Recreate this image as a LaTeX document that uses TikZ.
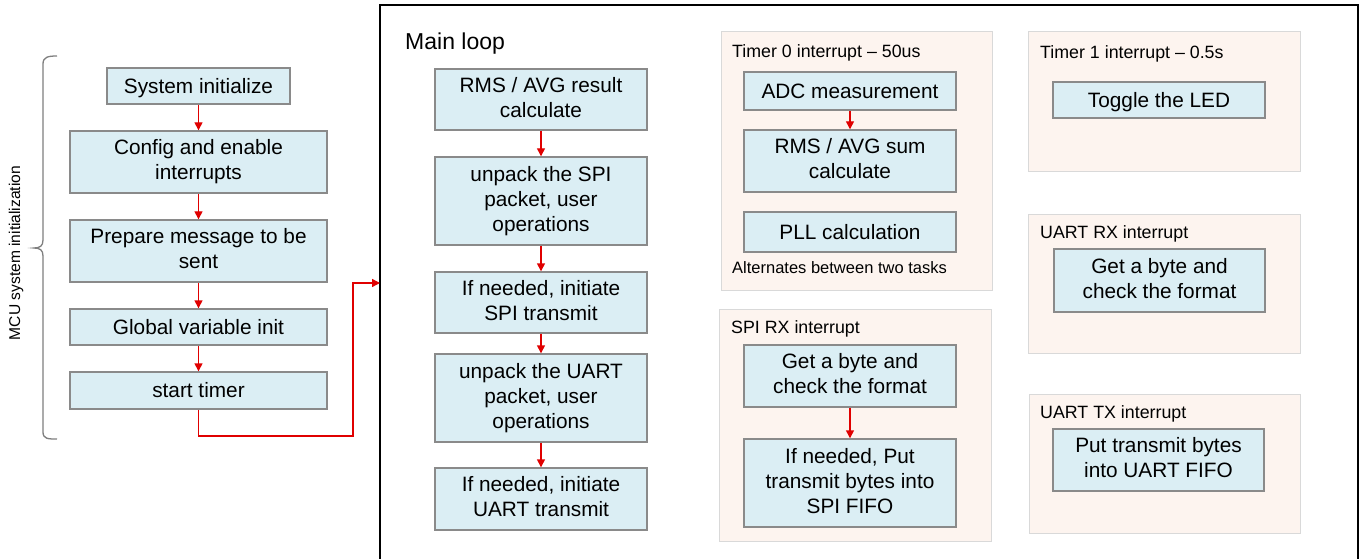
\documentclass[tikz,border=0pt]{standalone}
\usepackage{fontspec}
\setmainfont{Liberation Sans}
\usetikzlibrary{arrows.meta}
\definecolor{boxfill}{HTML}{DBEEF4}
\definecolor{boxline}{HTML}{8A8A8A}
\definecolor{panelfill}{HTML}{FDF4EF}
\definecolor{panelline}{HTML}{D9D9D9}
\definecolor{arrred}{HTML}{E00000}
\definecolor{bracegray}{HTML}{7F7F7F}
\tikzset{
  stepbox/.style={draw=boxline, fill=boxfill, line width=1.4pt, inner sep=0pt, align=center,
    font=\fontsize{20.8}{25}\selectfont,
    execute at begin node={\rule{0pt}{0.905em}},
    execute at end node={\rule[-0.212em]{0pt}{0.212em}}},
  panel/.style={draw=panelline, fill=panelfill, line width=1pt},
  ptitle/.style={anchor=base west, inner sep=0pt, font=\fontsize{17.8}{21}\selectfont},
  arr/.style={draw=arrred, line width=1.4pt, -{Triangle[width=8pt,length=8pt]}},
}
\begin{document}
\begin{tikzpicture}[x=1pt,y=-1pt]
\useasboundingbox (0,0) rectangle (1361,559);
\clip (0,0) rectangle (1361,559);
\fill[white] (0,0) rectangle (1361,559);

% main frame
\draw[line width=2.6pt] (380,5) rectangle (1358,620);
\coordinate (entry) at (380,283);
\coordinate (turn) at (353,436);

% brace and label
\draw[bracegray, line width=1.3pt] (57,56) .. controls (48,56) and (43,57) .. (43,64) -- (43,240)
  .. controls (43,246) and (40,248) .. (34,248) .. controls (40,248) and (43,250) .. (43,256)
  -- (43,432) .. controls (43,439) and (48,439) .. (57,439);
\node[rotate=90, inner sep=0pt, font=\fontsize{15.6}{19}\selectfont] (mcu) at (16,253) {MCU system initialization};

% left column
\node[stepbox, minimum width=183, minimum height=36] (sysinit) at (198.5,86) {System initialize};
\node[stepbox, minimum width=257, minimum height=62] (config) at (198.5,162) {Config and enable\\interrupts};
\node[stepbox, minimum width=257, minimum height=62] (prepare) at (198.5,251) {Prepare message to be\\sent};
\node[stepbox, minimum width=257, minimum height=36] (global) at (198.5,327) {Global variable init};
\node[stepbox, minimum width=257, minimum height=37] (start) at (198.5,390.5) {start timer};

\draw[arr] (sysinit) -- (config);
\draw[arr] (config) -- (prepare);
\draw[arr] (prepare) -- (global);
\draw[arr] (global) -- (start);
\draw[arr] (start.south) |- (turn) |- (entry);

% main loop
\node[anchor=base west, inner sep=0pt, font=\fontsize{23}{28}\selectfont] (mainloop) at (405,49.5) {Main loop};
\node[stepbox, minimum width=212, minimum height=61] (rms) at (541,99.5) {RMS / AVG result\\calculate};
\node[stepbox, minimum width=212, minimum height=88] (spiu) at (541,201) {unpack the SPI\\packet, user\\operations};
\node[stepbox, minimum width=212, minimum height=61] (spit) at (541,302.5) {If needed, initiate\\SPI transmit};
\node[stepbox, minimum width=212, minimum height=88] (uartu) at (541,398) {unpack the UART\\packet, user\\operations};
\node[stepbox, minimum width=212, minimum height=62] (uartt) at (541,499) {If needed, initiate\\UART transmit};
\draw[arr] (rms) -- (spiu);
\draw[arr] (spiu) -- (spit);
\draw[arr] (spit) -- (uartu);
\draw[arr] (uartu) -- (uartt);

% Timer 0 panel
\draw[panel] (721,32) rectangle (992,290);
\node[ptitle] (t0title) at (732,57.7) {Timer 0 interrupt – 50us};
\node[stepbox, minimum width=212, minimum height=38] (adc) at (850,91) {ADC measurement};
\node[stepbox, minimum width=212, minimum height=62] (rmssum) at (850,161) {RMS / AVG sum\\calculate};
\node[stepbox, minimum width=212, minimum height=40] (pll) at (850,232) {PLL calculation};
\node[ptitle, font=\fontsize{16.5}{20}\selectfont] (alt) at (732,273.3) {Alternates between two tasks};
\draw[arr] (adc) -- (rmssum);

% SPI RX panel
\draw[panel] (719,309) rectangle (991,541);
\node[ptitle] (spititle) at (731,333.3) {SPI RX interrupt};
\node[stepbox, minimum width=212, minimum height=62] (getspi) at (850,376) {Get a byte and\\check the format};
\node[stepbox, minimum width=212, minimum height=88] (putspi) at (850,483) {If needed, Put\\transmit bytes into\\SPI FIFO};
\draw[arr] (getspi) -- (putspi);

% Timer 1 panel
\draw[panel] (1028,32) rectangle (1300,172);
\node[ptitle] (t1title) at (1040,58.3) {Timer 1 interrupt – 0.5s};
\node[stepbox, minimum width=212, minimum height=36] (toggle) at (1159,100) {Toggle the LED};

% UART RX panel
\draw[panel] (1028,214) rectangle (1300,353);
\node[ptitle] (urxtitle) at (1040,238.3) {UART RX interrupt};
\node[stepbox, minimum width=211, minimum height=63] (geturt) at (1159.5,280.5) {Get a byte and\\check the format};

% UART TX panel
\draw[panel] (1029,394) rectangle (1300,533);
\node[ptitle] (utxtitle) at (1040,418.3) {UART TX interrupt};
\node[stepbox, minimum width=211, minimum height=62] (puturt) at (1158.5,460) {Put transmit bytes\\into UART FIFO};
\end{tikzpicture}
\end{document}
